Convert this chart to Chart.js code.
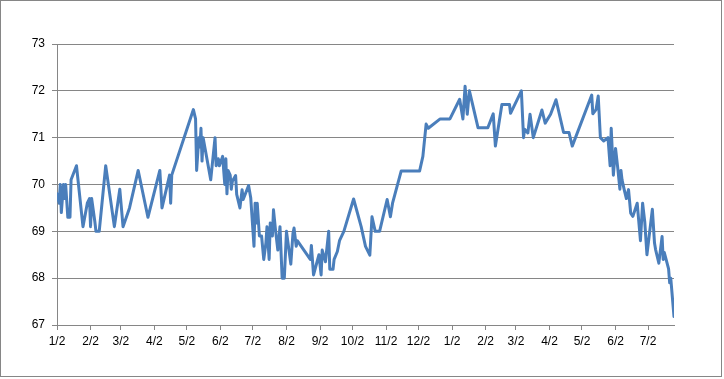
<!DOCTYPE html>
<html>
<head>
<meta charset="utf-8">
<script src="https://cdn.jsdelivr.net/npm/chart.js@4/dist/chart.umd.min.js"></script>
<style>
  html, body { margin: 0; padding: 0; background: #fff; }
  #wrap { width: 724px; height: 379px; position: relative; }
</style>
</head>
<body>
<div id="wrap"><canvas id="chart" width="724" height="379"></canvas></div>
<script>
// data: days since the start date, and the value on that day
const startDate = '2010-01-02';
const dayOffsets = [
  0, 2, 3, 4, 6, 7, 8, 10, 12, 13, 18, 24, 28, 30, 31, 32, 35, 36, 39, 45,
  53, 58, 61, 67, 75, 84, 95, 97, 104, 105, 106, 126, 128, 129, 131, 132, 133, 134, 135, 142,
  146, 147, 149, 150, 153, 155, 156, 157, 158, 160, 161, 162, 165, 166, 169, 171, 172, 177, 179, 182,
  183, 184, 185, 187, 189, 191, 193, 194, 196, 197, 199, 200, 202, 204, 206, 208, 210, 212, 216, 218,
  219, 221, 222, 234, 235, 237, 242, 244, 245, 248, 251, 252, 255, 256, 259, 261, 265, 274, 281, 285,
  289, 291, 294, 298, 305, 308, 310, 318, 335, 338, 341, 343, 354, 363, 372, 375, 377, 379, 381, 389,
  398, 403, 405, 411, 418, 419, 429, 431, 432, 435, 437, 440, 448, 451, 456, 461, 468, 473, 476, 494,
  495, 498, 500, 502, 505, 509, 511, 512, 514, 516, 518, 520, 521, 522, 524, 526, 528, 530, 532, 536,
  539, 541, 543, 545, 550, 552, 553, 556, 559, 560, 561, 565, 566, 567, 570
];
const values = [
  69.8, 69.6, 70.0, 69.4, 70.0, 69.7, 70.0, 69.3, 69.3, 70.1, 70.4, 69.1, 69.6, 69.7, 69.1, 69.7, 69.2, 69.0, 69.0, 70.4,
  69.1, 69.9, 69.1, 69.5, 70.3, 69.3, 70.3, 69.5, 70.2, 69.6, 70.2, 71.6, 71.4, 70.3, 71.0, 70.8, 71.2, 70.5, 71.0, 70.1,
  71.0, 70.4, 70.55, 70.4, 70.6, 70.0, 70.55, 69.8, 70.3, 70.2, 69.9, 70.07, 70.19, 69.79, 69.5, 69.89, 69.68, 69.98, 69.71, 68.68,
  69.6, 69.18, 69.6, 68.9, 68.9, 68.4, 68.75, 69.1, 68.4, 69.18, 68.9, 69.46, 69.0, 68.6, 69.1, 68.0, 68.0, 69.0, 68.3, 68.96,
  69.07, 68.68, 68.8, 68.4, 68.7, 68.07, 68.5, 68.07, 68.6, 68.35, 69.0, 68.19, 68.19, 68.4, 68.57, 68.8, 69.0, 69.69, 69.1, 68.68,
  68.49, 69.31, 69.0, 69.0, 69.68, 69.31, 69.6, 70.29, 70.29, 70.6, 71.29, 71.2, 71.4, 71.4, 71.82, 71.4, 72.1, 71.5, 72.0, 71.21,
  71.21, 71.51, 70.82, 71.71, 71.71, 71.52, 72.0, 71.0, 71.18, 71.1, 71.5, 71.0, 71.59, 71.31, 71.5, 71.81, 71.11, 71.11, 70.82, 71.91,
  71.51, 71.6, 71.89, 71.0, 70.93, 71.0, 70.4, 71.2, 70.2, 70.77, 70.36, 69.9, 70.3, 70.1, 69.89, 69.7, 69.89, 69.39, 69.32, 69.6,
  68.8, 69.6, 69.2, 68.5, 69.47, 68.75, 68.61, 68.32, 68.89, 68.4, 68.55, 68.2, 67.9, 68.0, 67.18
];
const tickDates = [
  '2010-01-02', '2010-02-02', '2010-03-02', '2010-04-02', '2010-05-02', '2010-06-02', '2010-07-02',
  '2010-08-02', '2010-09-02', '2010-10-02', '2010-11-02', '2010-12-02', '2011-01-02', '2011-02-02',
  '2011-03-02', '2011-04-02', '2011-05-02', '2011-06-02', '2011-07-02'
];
const tickLabels = [
  '1/2', '2/2', '3/2', '4/2', '5/2', '6/2', '7/2', '8/2', '9/2', '10/2', '11/2', '12/2',
  '1/2', '2/2', '3/2', '4/2', '5/2', '6/2', '7/2'
];

const DAY = 86400000;
const daysFrom = d => (Date.parse(d) - Date.parse(startDate)) / DAY;
const tickDays = tickDates.map(daysFrom);
const points = dayOffsets.map((d, i) => ({ x: d, y: values[i] }));

const gridGray = '#868686';

// frame around the whole chart, like the spreadsheet chart box
const frame = {
  id: 'frame',
  afterDraw(chart) {
    const c = chart.ctx;
    c.save();
    c.strokeStyle = gridGray;
    c.lineWidth = 1;
    c.strokeRect(0.5, 0.5, 721, 376);
    c.restore();
  }
};

new Chart(document.getElementById('chart'), {
  type: 'line',
  data: {
    datasets: [{
      data: points,
      borderColor: '#4a7ebb',
      borderWidth: 3,
      borderJoinStyle: 'round',
      borderCapStyle: 'round',
      pointRadius: 0,
      tension: 0,
      fill: false
    }]
  },
  options: {
    responsive: false,
    animation: false,
    layout: { padding: { top: 44, right: 50, left: 0, bottom: 0 } },
    plugins: { legend: { display: false }, tooltip: { enabled: false } },
    scales: {
      x: {
        type: 'linear',
        min: 0,
        max: 570,
        afterBuildTicks: scale => { scale.ticks = tickDays.map(v => ({ value: v })); },
        afterFit: scale => { scale.height = 54; },
        grid: { drawOnChartArea: false, drawTicks: true, tickLength: 5, color: gridGray },
        border: { display: true, color: gridGray },
        ticks: {
          autoSkip: false,
          maxRotation: 0,
          padding: 4,
          color: '#000',
          font: { family: 'Liberation Sans', size: 12 },
          callback: (v, i) => tickLabels[i]
        }
      },
      y: {
        min: 67,
        max: 73,
        afterFit: scale => { scale.width = 57; },
        grid: { color: gridGray, tickLength: 5 },
        border: { display: true, color: gridGray },
        ticks: {
          stepSize: 1,
          padding: 7,
          color: '#000',
          font: { family: 'Liberation Sans', size: 12 }
        }
      }
    }
  },
  plugins: [frame]
});
</script>
</body>
</html>
